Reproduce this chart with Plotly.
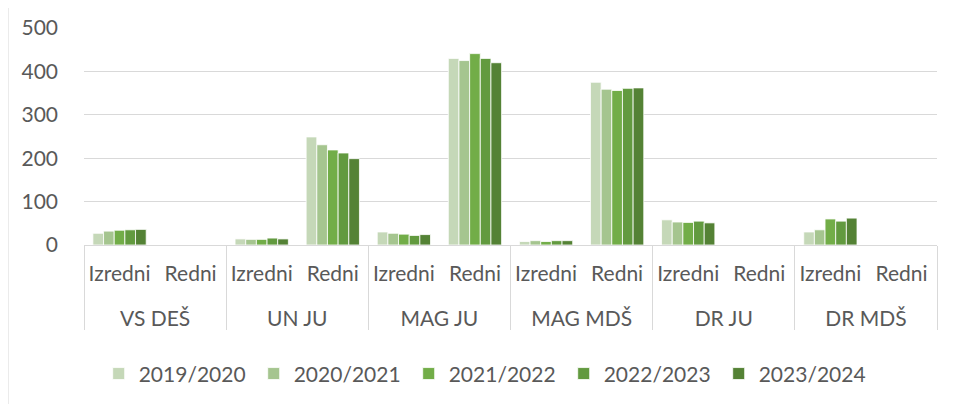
import plotly.graph_objects as go

groups = ["VS DEŠ", "VS DEŠ", "UN JU", "UN JU", "MAG JU", "MAG JU",
          "MAG MDŠ", "MAG MDŠ", "DR JU", "DR JU", "DR MDŠ", "DR MDŠ"]
subcats = ["Izredni", "Redni"] * 6

years = ["2019/2020", "2020/2021", "2021/2022", "2022/2023", "2023/2024"]
v_2019_2020 = [27, None, 14, 249, 30, 430, 8, 375, 58, None, 30, None]
v_2020_2021 = [32, None, 13, 231, 27, 425, 10, 359, 53, None, 35, None]
v_2021_2022 = [34, None, 13, 219, 25, 441, 8, 356, 52, None, 60, None]
v_2022_2023 = [35, None, 16, 212, 22, 430, 10, 361, 55, None, 55, None]
v_2023_2024 = [36, None, 14, 199, 24, 420, 10, 362, 51, None, 62, None]
series = [v_2019_2020, v_2020_2021, v_2021_2022, v_2022_2023, v_2023_2024]
colors = ["#C5D8B8", "#A5C58F", "#72AD48", "#629A3F", "#548235"]

FONT = "Lato"
TXT = "#595959"

# group labels get an empty first line so they sit lower, as in the reference
group_labels = ["<br>" + g for g in groups]

fig = go.Figure()
for name, vals, col in zip(years, series, colors):
    fig.add_trace(go.Bar(
        x=[group_labels, subcats], y=vals, name=name,
        marker=dict(color=col, line=dict(color="white", width=0.8)),
    ))

fig.update_layout(
    width=955, height=404,
    margin=dict(l=76, r=25.5, t=19.5, b=166.5),
    paper_bgcolor="white", plot_bgcolor="white",
    barmode="group", bargap=0.25, bargroupgap=0,
    font=dict(family=FONT, size=21, color=TXT),
    showlegend=True,
    legend=dict(orientation="h", x=0.4715, xanchor="center", y=-0.594, yanchor="middle",
                font=dict(family=FONT, size=21, color=TXT), traceorder="normal",
                entrywidth=110, entrywidthmode="pixels"),
)
fig.update_yaxes(range=[0, 500], dtick=100, showgrid=True, gridcolor="#D9D9D9", gridwidth=1,
                 zeroline=False, showline=False, ticks="", ticklabelstandoff=25,
                 automargin=False,
                 tickfont=dict(family=FONT, size=21, color=TXT))
fig.update_xaxes(type="multicategory", showline=True, linecolor="#D9D9D9", linewidth=1,
                 showdividers=True, dividercolor="#D9D9D9", dividerwidth=1, ticks="",
                 ticklabelstandoff=10, automargin=False,
                 tickfont=dict(family=FONT, size=21, color=TXT))

fig.add_shape(type="line", xref="paper", yref="paper",
              x0=-76 / 853.5, x1=-76 / 853.5, y0=-1.0, y1=1.2,
              line=dict(color="#D9D9D9", width=1))

fig.write_html("out.html")
